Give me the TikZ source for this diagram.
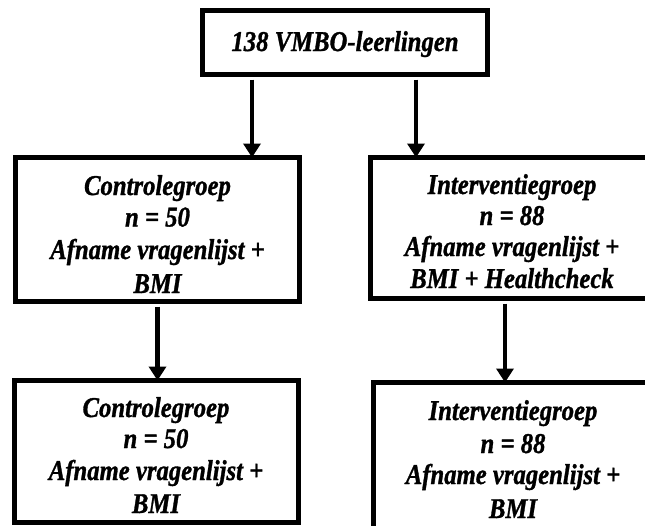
\documentclass[tikz,border=0pt]{standalone}
\usepackage{fontspec}
\setmainfont{Liberation Serif}
\newfontfamily\boxfont{Liberation Serif Bold Italic}[FakeBold=1.2]
\newcommand{\vstretch}[1]{\scalebox{1}[1.16]{#1}}
\usetikzlibrary{arrows.meta}
\tikzset{
  box/.style={draw=black, line width=5pt, rectangle, inner sep=0pt},
  txt/.style={font=\boxfont\fontsize{24.7}{30}\selectfont, anchor=base, inner sep=0pt},
  arr/.style={line width=4.5pt, -{Triangle[width=17pt,length=14pt]}},
}
\begin{document}
\begin{tikzpicture}[x=1pt,y=-1pt]
\useasboundingbox (0,0) rectangle (645,525);
\clip (0,0) rectangle (645,525);
% text
\node[txt] (t0) at (345,51) {\vstretch{138 VMBO-leerlingen}};
\node[txt] (a1) at (157.5,195) {\vstretch{Controlegroep}};
\node[txt] (a2) at (157.5,226.5) {\vstretch{n = 50}};
\node[txt] (a3) at (157.5,259) {\vstretch{Afname vragenlijst +}};
\node[txt] (a4) at (157.5,293) {\vstretch{BMI}};
\node[txt] (b1) at (512,194) {\vstretch{Interventiegroep}};
\node[txt] (b2) at (512,225) {\vstretch{n = 88}};
\node[txt] (b3) at (512,256) {\vstretch{Afname vragenlijst +}};
\node[txt] (b4) at (512,288) {\vstretch{BMI + Healthcheck}};
\node[txt] (c1) at (156,417) {\vstretch{Controlegroep}};
\node[txt] (c2) at (156,448) {\vstretch{n = 50}};
\node[txt] (c3) at (156,480) {\vstretch{Afname vragenlijst +}};
\node[txt] (c4) at (156,513) {\vstretch{BMI}};
\node[txt] (d1) at (513,420) {\vstretch{Interventiegroep}};
\node[txt] (d2) at (513,453) {\vstretch{n = 88}};
\node[txt] (d3) at (513,484) {\vstretch{Afname vragenlijst +}};
\node[txt] (d4) at (513,518) {\vstretch{BMI}};
% boxes
\node[box, minimum width=285.5pt, minimum height=64pt] (top) at (344.75,42.5) {};
\node[box, minimum width=284pt, minimum height=144pt] (cl) at (157.5,229.5) {};
\node[box, minimum width=284pt, minimum height=141pt] (iv) at (512,228) {};
\node[box, minimum width=284pt, minimum height=142pt] (cl2) at (156,451.5) {};
\node[box, minimum width=280pt, minimum height=160pt] (iv2) at (513,462.5) {};
% connectors
\coordinate (xl) at (252,0);
\coordinate (xr) at (416,0);
\coordinate (xm) at (505,0);
\draw[arr] ([yshift=-2.5pt]top.south -| xl) -- ([yshift=-2.5pt]cl.north -| xl);
\draw[arr] ([yshift=-2.5pt]top.south -| xr) -- ([yshift=-2.5pt]iv.north -| xr);
\draw[arr] ([yshift=-2.5pt]cl.south) -- ([yshift=-2.5pt]cl2.north -| cl.south);
\draw[arr] ([yshift=-2.5pt]iv.south -| xm) -- ([yshift=-2.5pt]iv2.north -| xm);
\end{tikzpicture}
\end{document}
